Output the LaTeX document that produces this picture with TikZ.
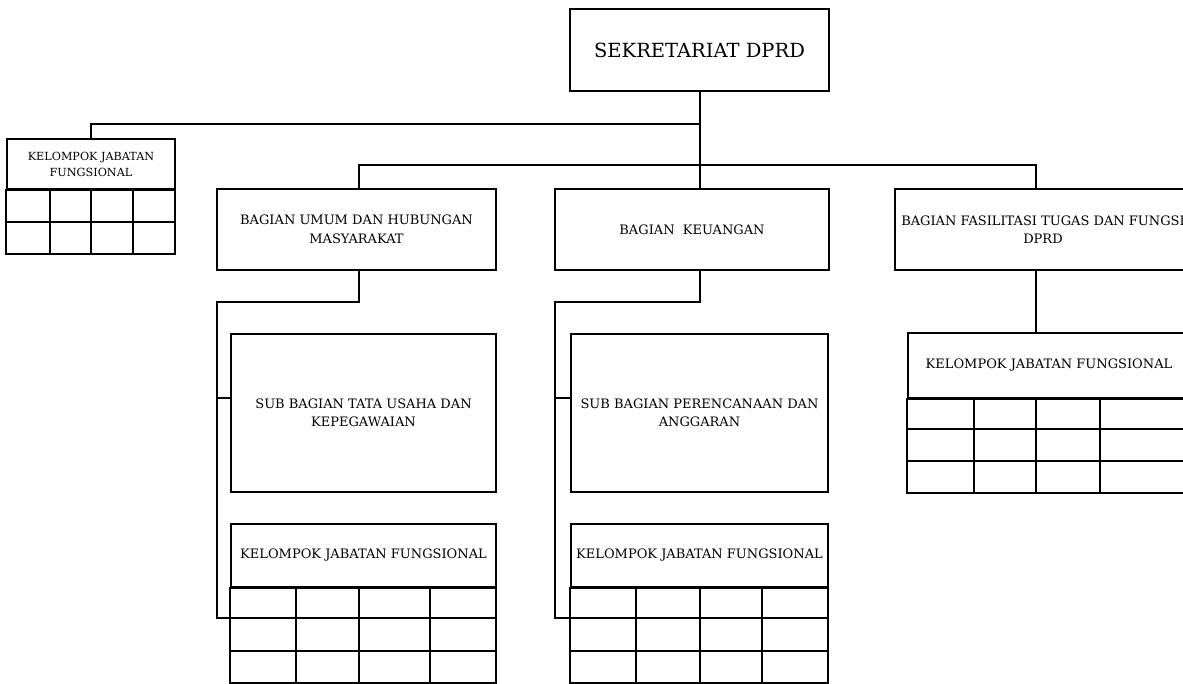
\documentclass[tikz,border=0pt]{standalone}
\usepackage{fontspec}
\setmainfont{DejaVu Serif}
\usetikzlibrary{positioning,calc}

\begin{document}
\begin{tikzpicture}[x=1pt,y=-1pt,line width=2.4pt,
    box/.style={draw, rectangle, align=center, inner sep=0pt, font=\fontsize{13}{18.5}\selectfont},
    smallbox/.style={box, font=\fontsize{11.2}{16}\selectfont},
    bigbox/.style={box, font=\fontsize{19.5}{22}\selectfont}]
    \useasboundingbox (0,0) rectangle (1183,683);

    \node[bigbox, minimum width=259, minimum height=82] (sek) at (699.5,50) {SEKRETARIAT DPRD};

    \node[smallbox, minimum width=168, minimum height=50] (kjfa) at (91,164) {KELOMPOK JABATAN\\FUNGSIONAL};

    \node[box, minimum width=279, minimum height=81] (umum) at (356.5,229.5) {BAGIAN UMUM DAN HUBUNGAN\\MASYARAKAT};
    \node[box, minimum width=274, minimum height=81] (keu) at (692,229.5) {BAGIAN\ \ KEUANGAN};
    \node[box, minimum width=296, minimum height=81] (fas) at (1043,229.5) {BAGIAN FASILITASI TUGAS DAN FUNGSI\\DPRD};

    \node[box, minimum width=265, minimum height=158] (suba) at (363.5,413) {SUB BAGIAN TATA USAHA DAN\\KEPEGAWAIAN};
    \node[box, minimum width=257, minimum height=158] (subb) at (699.5,413) {SUB BAGIAN PERENCANAAN DAN\\ANGGARAN};

    \node[box, minimum width=265, minimum height=63] (kjfb) at (363.5,555.5) {KELOMPOK JABATAN FUNGSIONAL};
    \node[box, minimum width=257, minimum height=63] (kjfc) at (699.5,555.5) {KELOMPOK JABATAN FUNGSIONAL};
    \node[box, minimum width=282, minimum height=65] (kjfd) at (1049,365.5) {KELOMPOK JABATAN FUNGSIONAL};

    % empty cells under each kelompok
    \draw (kjfa.south west) rectangle (175,254);
    \draw (7,222) -- (175,222);
    \foreach \x in {50,91,133} \draw (\x,189) -- (\x,254);

    \draw (kjfb.south west) rectangle (496,683);
    \foreach \y in {618,651} \draw (231,\y) -- (496,\y);
    \foreach \x in {296,359,430} \draw (\x,587) -- (\x,683);

    \draw (kjfc.south west) rectangle (828,683);
    \foreach \y in {618,651} \draw (571,\y) -- (828,\y);
    \foreach \x in {636,700,762} \draw (\x,587) -- (\x,683);

    \draw (kjfd.south west) rectangle (1190,493);
    \foreach \y in {429,461} \draw (908,\y) -- (1190,\y);
    \foreach \x in {974,1036,1100} \draw (\x,398) -- (\x,493);

    % lines
    \coordinate (top) at (700,124);
    \coordinate (mid) at (700,165);
    \coordinate (busl) at (359,165);
    \coordinate (busr) at (1036,165);
    \draw (sek.south -| top) -- (mid |- keu.north);
    \draw (top) -| (kjfa.north);
    \draw (busl |- umum.north) -- (busl) -- (busr) -- (busr |- fas.north);
    \draw (busr |- fas.south) -- (busr |- kjfd.north);

    \coordinate (ua) at (217,302);
    \draw (busl |- umum.south) |- (ua) -- (217,618) -- (kjfb.west |- 0,618);
    \draw (217,398) -- (suba.west |- 0,398);

    \coordinate (kb) at (555,302);
    \draw (mid |- keu.south) -- (700,302) -- (kb) -- (555,618) -- (kjfc.west |- 0,618);
    \draw (555,398) -- (subb.west |- 0,398);
\end{tikzpicture}
\end{document}
